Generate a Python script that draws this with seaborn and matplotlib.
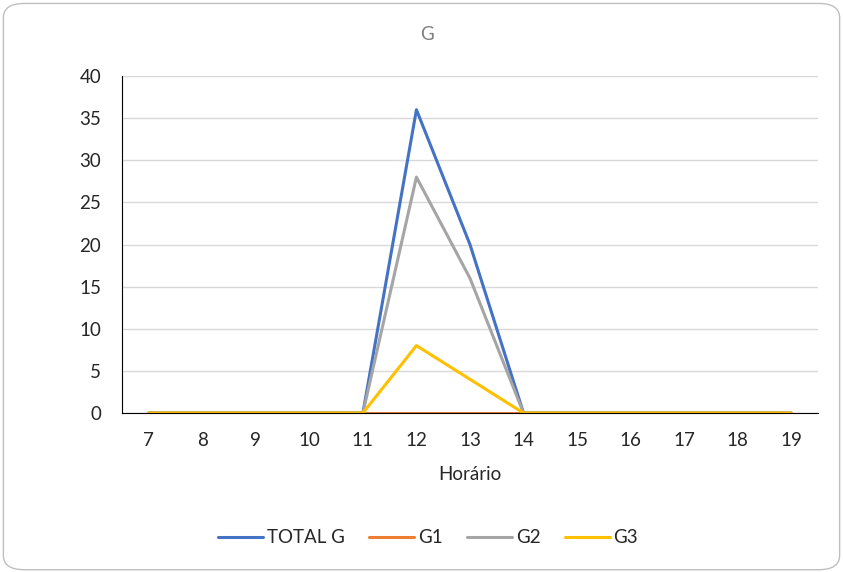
import pandas as pd
import seaborn as sns
import matplotlib.pyplot as plt
from matplotlib.patches import FancyBboxPatch

# data
horario = [7, 8, 9, 10, 11, 12, 13, 14, 15, 16, 17, 18, 19]
total_g = [0, 0, 0, 0, 0, 36, 20, 0, 0, 0, 0, 0, 0]
g1 = [0, 0, 0, 0, 0, 0, 0, 0, 0, 0, 0, 0, 0]
g2 = [0, 0, 0, 0, 0, 28, 16, 0, 0, 0, 0, 0, 0]
g3 = [0, 0, 0, 0, 0, 8, 4, 0, 0, 0, 0, 0, 0]
series = ['TOTAL G', 'G1', 'G2', 'G3']
colors = ['#4472C4', '#ED7D31', '#A5A5A5', '#FFC000']

frames = []
for name, vals in zip(series, [total_g, g1, g2, g3]):
    frames.append(pd.DataFrame({'Horário': horario, 'valor': vals, 'serie': name}))
df = pd.concat(frames, ignore_index=True)

sns.set_style('white')
plt.rcParams['font.family'] = ['Lato', 'DejaVu Sans']

fig = plt.figure(figsize=(8.43, 5.72), dpi=100)
ax = fig.add_axes([0.1447, 0.278, 0.9703 - 0.1447, 0.8671 - 0.278])

sns.lineplot(data=df, x='Horário', y='valor', hue='serie', hue_order=series,
             palette=colors, linewidth=2.2, ax=ax, legend=True)

ax.set_xlim(6.5, 19.5)
ax.set_ylim(0, 40)
ax.set_xticks(horario)
ax.set_yticks(range(0, 41, 5))
ax.yaxis.grid(True, color='#D9D9D9', linewidth=1)
ax.set_axisbelow(True)
for s in ['top', 'right']:
    ax.spines[s].set_visible(False)
ax.spines['left'].set_color('black')
ax.spines['bottom'].set_color('black')
ax.tick_params(axis='both', length=0, labelsize=13.5, colors='#262626')
ax.tick_params(axis='x', pad=14)
ax.tick_params(axis='y', pad=15)
ax.set_xlabel('Horário', fontsize=13.5, color='#262626', labelpad=12)
ax.set_ylabel('')

fig.text(0.507, 0.94, 'G', ha='center', va='center', fontsize=13.5, color='#7F7F7F')

handles, labels = ax.get_legend_handles_labels()
ax.legend(handles, labels, loc='center', bbox_to_anchor=(0.508, 0.06),
          bbox_transform=fig.transFigure, ncol=4, frameon=False,
          fontsize=13.5, handlelength=2.4, columnspacing=1.3, handletextpad=0.2,
          labelcolor='#262626')

border = FancyBboxPatch((0.004, 0.004), 0.992, 0.99, transform=fig.transFigure,
                        boxstyle='round,pad=0,rounding_size=0.025',
                        facecolor='none', edgecolor='#BFBFBF', linewidth=1)
fig.patches.append(border)

fig.savefig('out.png', dpi=100)
